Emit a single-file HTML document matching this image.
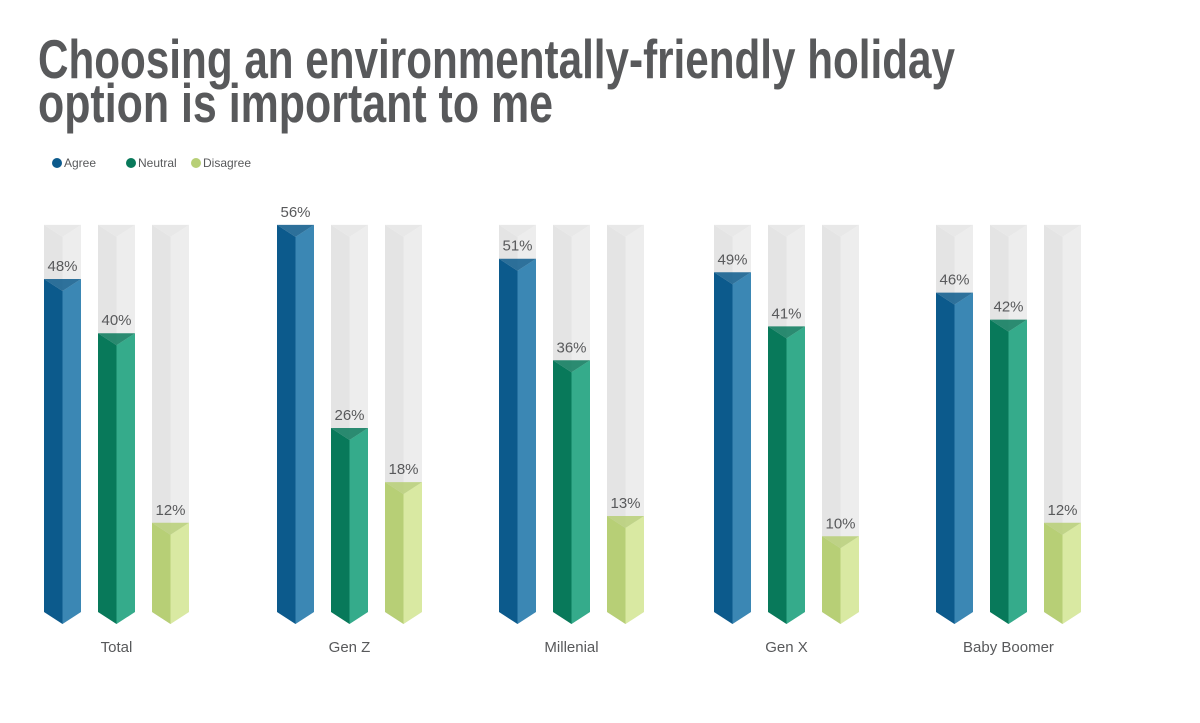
<!DOCTYPE html>
<html><head><meta charset="utf-8"><style>
html,body{margin:0;padding:0;background:#fff;}
svg{display:block;font-family:"Liberation Sans Narrow","Liberation Sans",sans-serif;}
</style></head><body>
<svg id="chart" width="1200" height="723" viewBox="0 0 1200 723" xmlns="http://www.w3.org/2000/svg">
<g fill="#58595b" font-weight="bold" font-size="55">
<text x="38" y="78" textLength="917" lengthAdjust="spacingAndGlyphs">Choosing an environmentally-friendly holiday</text>
<text x="38" y="122" textLength="515" lengthAdjust="spacingAndGlyphs">option is important to me</text>
</g>
<g id="legend" font-size="12" fill="#58595b"></g>
<g id="bars"></g>
</svg>
<script>
const categories = ["Total","Gen Z","Millenial","Gen X","Baby Boomer"];
const seriesNames = ["Agree","Neutral","Disagree"];
const agree = [48,56,51,49,46];
const neutral = [40,26,36,41,42];
const disagree = [12,18,13,10,12];
const maxValue = 56;

const NS="http://www.w3.org/2000/svg";
const svg=document.getElementById('chart');
const barsG=document.getElementById('bars');
const legendG=document.getElementById('legend');
const series=[agree,neutral,disagree];
const colors=[["#0c5a8c","#3b87b4"],["#08795a","#35ab8b"],["#b7cf76","#d9e9a2"]];
const groupX=[44,277,499,714,936];
const barW=37, barGap=54, chev=12;
const baseline=604, pxPer=6.77;
function y(v){return baseline-v*pxPer;}
function mk(tag,attrs){const e=document.createElementNS(NS,tag);for(const k in attrs)e.setAttribute(k,attrs[k]);return e;}
function prism(g,x,top,cl,cr){
  const m=x+barW/2, r=x+barW, bot=baseline+8;
  g.appendChild(mk('polygon',{points:`${x},${top} ${m},${top+chev} ${m},${bot+chev} ${x},${bot}`,fill:cl}));
  g.appendChild(mk('polygon',{points:`${m},${top+chev} ${r},${top} ${r},${bot} ${m},${bot+chev}`,fill:cr}));
  g.appendChild(mk('polygon',{points:`${x},${top} ${r},${top} ${m},${top+chev}`,fill:cl,opacity:"0.85"}));
}
categories.forEach((c,ci)=>{
  series.forEach((s,si)=>{
    const x=groupX[ci]+si*barGap;
    const bg=mk('g',{});
    
    
    prism(bg,x,y(maxValue),"#e4e4e4","#ededed");
    barsG.appendChild(bg);
    const g=mk('g',{});
    
    
    prism(g,x,y(s[ci]),colors[si][0],colors[si][1]);
    barsG.appendChild(g);
    const t=mk('text',{x:x+barW/2,y:y(s[ci])-8,'text-anchor':'middle','font-size':'15',fill:'#58595b'});
    
    
    t.textContent=s[ci]+'%';
    barsG.appendChild(t);
  });
  const lt=mk('text',{x:groupX[ci]+barGap+barW/2,y:652,'text-anchor':'middle','font-size':'15',fill:'#58595b'});
  
  
  lt.textContent=c;
  barsG.appendChild(lt);
});
const legX=[57,131,196];
seriesNames.forEach((n,i)=>{
  const g=mk('g',{});
  
  
  g.appendChild(mk('circle',{cx:legX[i],cy:163,r:5,fill:colors[i][0]}));
  const t=mk('text',{x:legX[i]+7,y:167});
  t.textContent=n;
  g.appendChild(t);
  legendG.appendChild(g);
});
</script>
</body></html>
